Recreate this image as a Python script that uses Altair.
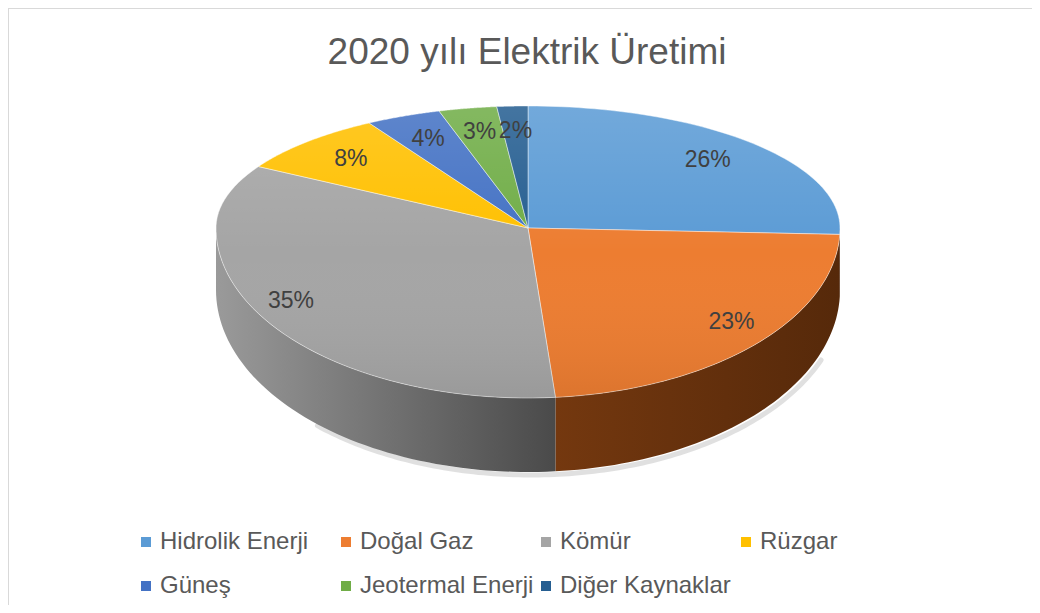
import altair as alt
import pandas as pd

# ---- data ----
categories = ["Hidrolik Enerji", "Doğal Gaz", "Kömür", "Rüzgar", "Güneş",
              "Jeotermal Enerji", "Diğer Kaynaklar"]
shares = [25.6, 23.0, 34.8, 8.1, 3.9, 3.0, 1.6]
title_text = "2020 yılı Elektrik Üretimi"

# ---- styles ----
colors = ["#5b9bd5", "#ed7d31", "#a5a5a5", "#ffc000", "#4472c4", "#70ad47", "#255e91"]
side_colors = {
    "Hidrolik Enerji": ("#35689a", "#2c5682"),
    "Doğal Gaz": ("#74380f", "#56290a"),
    "Kömür": ("#9a9a9a", "#4a4a4a"),
    "Rüzgar": ("#9c7500", "#7a5c00"),
    "Güneş": ("#2a4a80", "#213a66"),
    "Jeotermal Enerji": ("#456b2c", "#375622"),
    "Diğer Kaynaklar": ("#173b5b", "#123049"),
}
FONT = "Liberation Sans"

# ellipse geometry (page pixel space)
CX, CY, A, BT, BB, D0, BB2 = 528, 228, 312, 122, 170, 62, 182
N = 60

df = pd.DataFrame({"category": categories, "value": shares,
                   "order": list(range(len(categories)))})

xs = alt.Scale(domain=[8, 1032], nice=False, zero=False)
ys = alt.Scale(domain=[8, 605], nice=False, zero=False, reverse=True)
X = alt.X("px:Q", scale=xs, axis=None)
Y = alt.Y("py:Q", scale=ys, axis=None)


def base():
    return (
        alt.Chart(df)
        .transform_window(cum="sum(value)", sort=[alt.SortField("order")], frame=[None, 0])
        .transform_joinaggregate(total="sum(value)")
        .transform_calculate(
            t1="2*PI*(datum.cum-datum.value)/datum.total",
            t2="2*PI*datum.cum/datum.total",
        )
    )


def bexpr(th):
    return f"(cos({th})>=0?{BT}:{BB})"


# ---- soft shadow under the pie ----
shadow = (
    alt.Chart(alt.sequence(0, 121, as_="k"))
    .transform_calculate(th="0.62*PI + 0.62*PI*datum.k/120")
    .transform_calculate(
        px=f"{CX}+3+{A}*sin(datum.th)",
        py=f"{CY}+{D0}+3-{BB2}*cos(datum.th)",
    )
    .mark_line(interpolate="linear", stroke="#000000", strokeWidth=5,
               strokeOpacity=0.12, strokeCap="round")
    .encode(x=X, y=Y, order="k:Q")
)

# ---- side walls ----
sides = []
for cat in categories:
    c0, c1 = side_colors[cat]
    s = (
        base()
        .transform_filter(alt.datum.category == cat)
        .transform_calculate(s1="max(datum.t1, PI/2)", s2="min(datum.t2, 3*PI/2)")
        .transform_filter("datum.s2 > datum.s1")
        .transform_calculate(k=f"sequence(0,{2 * N + 2})")
        .transform_flatten(["k"])
        .transform_calculate(j=f"datum.k<={N} ? datum.k : {2 * N + 1}-datum.k")
        .transform_calculate(th=f"datum.s1+(datum.s2-datum.s1)*datum.j/{N}")
        .transform_calculate(
            px=f"{CX}+{A}*sin(datum.th)",
            py=f"datum.k<={N} ? {CY}-{BB}*cos(datum.th) : {CY}+{D0}-{BB2}*cos(datum.th)",
        )
        .mark_line(
            interpolate="linear-closed",
            strokeWidth=0,
            fill=alt.Gradient(
                gradient="linear",
                stops=[alt.GradientStop(color=c0, offset=0),
                       alt.GradientStop(color=c1, offset=1)],
                x1=0, x2=1, y1=0, y2=0,
            ),
        )
        .encode(x=X, y=Y, order="k:Q")
    )
    sides.append(s)

# ---- top faces ----
top = (
    base()
    .transform_calculate(k=f"sequence(0,{N + 2})")
    .transform_flatten(["k"])
    .transform_calculate(th=f"datum.t1+(datum.t2-datum.t1)*min(datum.k,{N})/{N}")
    .transform_calculate(
        px=f"datum.k>{N} ? {CX} : {CX}+{A}*sin(datum.th)",
        py=f"datum.k>{N} ? {CY} : {CY}-{bexpr('datum.th')}*cos(datum.th)",
    )
    .mark_line(interpolate="linear-closed", stroke="white", strokeWidth=1, strokeOpacity=0.45)
    .encode(
        x=X, y=Y, order="k:Q", detail="category:N",
        fill=alt.Fill(
            "category:N",
            scale=alt.Scale(domain=categories, range=colors),
            sort=categories,
            legend=alt.Legend(
                title=None, orient="none", legendX=126, legendY=522,
                direction="horizontal", columns=4, gridAlign="all",
                columnPadding=0, rowPadding=20, symbolType="square",
                symbolSize=100, symbolStrokeWidth=0, symbolOpacity=1,
                labelFontSize=24, labelFont=FONT, labelColor="#595959",
                labelOffset=2, padding=0, labelLimit=400,
            ),
        ),
    )
)

# ---- lighting overlay on the top face ----
light = (
    alt.Chart(alt.sequence(0, 121, as_="k"))
    .transform_calculate(th="2*PI*datum.k/120")
    .transform_calculate(
        px=f"{CX}+{A}*sin(datum.th)",
        py=f"{CY}-{bexpr('datum.th')}*cos(datum.th)",
    )
    .mark_line(
        interpolate="linear-closed", strokeWidth=0,
        fill=alt.Gradient(
            gradient="linear",
            stops=[alt.GradientStop(color="rgba(255,255,255,0.14)", offset=0),
                   alt.GradientStop(color="rgba(255,255,255,0)", offset=0.5),
                   alt.GradientStop(color="rgba(0,0,0,0.07)", offset=1)],
            x1=0, x2=0, y1=0, y2=1,
        ),
    )
    .encode(x=X, y=Y, order="k:Q")
)

# ---- percentage labels ----
labels = (
    base()
    .transform_calculate(tm="(datum.t1+datum.t2)/2",
                         pct="format(datum.value/datum.total, '.0%')")
    .transform_calculate(
        px=f"{CX}+(cos(datum.tm)>=0?0.8:0.9)*{A}*sin(datum.tm)",
        py=f"{CY}-0.8*{bexpr('datum.tm')}*cos(datum.tm)",
    )
    .mark_text(fontSize=23, font=FONT, color="#404040")
    .encode(x=X, y=Y, text="pct:N")
)

# ---- frame lines (top / left) ----
border_top = alt.Chart(df).mark_rule(color="#d9d9d9", strokeWidth=2).encode(
    x=alt.value(0), x2=alt.value(1024), y=alt.value(0))
border_left = alt.Chart(df).mark_rule(color="#d9d9d9", strokeWidth=2).encode(
    x=alt.value(0), y=alt.value(0), y2=alt.value(597))

chart = (
    alt.layer(shadow, *sides, top, light, labels, border_top, border_left)
    .properties(
        width=1024, height=597, autosize="none", padding=0,
        title=alt.TitleParams(
            text=title_text, fontSize=37, font=FONT, color="#595959",
            fontWeight="normal", anchor="middle", frame="group",
            baseline="alphabetic", offset=0, dy=94, dx=7,
        ),
    )
    .configure_view(stroke=None)
)

chart.save("out.html", embed_options={"renderer": "svg", "actions": False})
